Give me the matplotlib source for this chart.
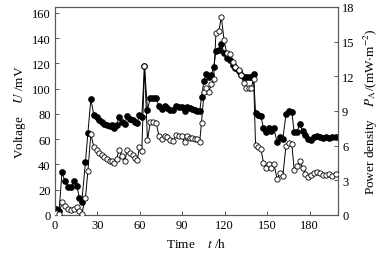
import numpy as np
import matplotlib
matplotlib.use('Agg')
import matplotlib.pyplot as plt

plt.rcParams['font.family'] = ['Liberation Serif', 'DejaVu Serif']
plt.rcParams['mathtext.fontset'] = 'stix'

# time (h), voltage (mV), power density (mW/m2)
t = [1, 3, 5, 7, 9.5, 11.5, 13.5, 15.5, 17.3, 19, 21.6, 23.3, 25.4, 27.5, 29.4,
     31.2, 33, 34.8, 36.7, 38.6, 40.3, 42, 43.6, 45.4, 47.3, 49.4, 51.2, 53.1,
     54.9, 56.7, 58.2, 59.7, 61.4, 63.3, 65.4, 67.4, 69.4, 71.5, 73.6, 75.5,
     77.6, 79.5, 81.6, 83.4, 85.8, 87.7, 89.6, 91.7, 93.6, 95.3, 97.1, 98.8,
     100.6, 102.3, 103.6, 105.4, 107, 108.6, 110.5, 112.2, 113.8, 115.8, 117.6,
     119.6, 121.4, 123.4, 125.7, 127.6, 129.8, 131.7, 133.4, 135.2, 137, 138.8,
     140.4, 141.8, 143.7, 145.6, 147.4, 149.3, 151.1, 152.8, 154.8, 157, 159,
     161.1, 163.3, 165.3, 167.4, 169.1, 171.1, 173, 175, 177, 179.1, 181.2,
     183.2, 185.3, 187.3, 189.3, 191.5, 193.7, 196, 198.4]
voltage = [4.5, 3.5, 34, 27, 22, 22, 27, 23, 13.5, 10.5, 42, 65, 91.5, 79.5, 77.5,
           75.5, 73.5, 72, 71, 70.5, 71, 68.5, 71, 78, 73.5, 72, 78.5, 76,
           75, 74, 73, 79.5, 77.5, 118, 83, 93, 93, 92.5, 86, 84,
           86, 84.5, 83.5, 83, 86, 85.5, 85.5, 82, 85.5, 84.5, 84, 83.2,
           82.6, 82, 93.5, 106.5, 112, 109, 111, 117, 130, 131, 135.5,
           128, 124, 123, 118.5, 116.5, 114, 111, 109.5, 109.3, 109.3, 109.3,
           112, 80.5, 79.5, 78.5, 68.5, 66, 68.5, 66.8, 68.5, 57.5, 62,
           60.2, 80, 82, 81.8, 65.5, 66, 72, 66.3, 63.4, 60.5, 59.6,
           61.5, 62.8, 62, 61, 62, 60.7, 61.5, 61.5]
power = [0.15, 0.1, 1.1, 0.75, 0.55, 0.43, 0.55, 0.65, 0.35, 0.1, 1.5, 3.8, 7.0, 5.9, 5.65,
         5.4, 5.2, 5.0, 4.85, 4.7, 4.7, 4.5, 4.85, 5.65, 5.1, 4.7, 5.65, 5.35,
         5.2, 4.9, 4.75, 5.85, 5.5, 12.9, 6.45, 8.05, 8.05, 8.0, 6.8, 6.55,
         6.85, 6.75, 6.45, 6.4, 6.9, 6.8, 6.8, 6.3, 6.8, 6.65, 6.65, 6.55,
         6.55, 6.3, 8.0, 10.6, 11.0, 10.6, 11.3, 11.8, 15.7, 15.9, 17.1,
         15.1, 14.0, 13.9, 13.2, 12.8, 12.5, 12.1, 11.4, 11.0, 11.0, 11.0,
         11.8, 6.05, 5.85, 5.7, 4.5, 4.1, 4.45, 4.1, 4.45, 3.1, 3.6,
         3.4, 6.0, 6.2, 6.15, 3.9, 4.2, 4.7, 4.1, 3.55, 3.3, 3.45,
         3.65, 3.7, 3.6, 3.45, 3.45, 3.55, 3.4, 3.55]

xticks = [0, 30, 60, 90, 120, 150, 180]
yticks_left = [0, 20, 40, 60, 80, 100, 120, 140, 160]
yticks_right = [0, 3, 6, 9, 12, 15, 18]

fig = plt.figure(figsize=(3.84, 2.55), dpi=100)
ax = fig.add_axes([0.143, 0.153, 0.737, 0.816])
ax2 = ax.twinx()

ax.plot(t, voltage, color='black', lw=0.7, marker='o', ms=3.8,
        mfc='black', mec='black', zorder=2)
ax2.plot(t, power, color='black', lw=0.7, marker='o', ms=3.8,
         mfc='white', mec='black', mew=0.6, zorder=3)

ax.set_xlim(0, 200)
ax.set_ylim(0, 164.8)
ax2.set_ylim(0, 18)
ax.set_xticks(xticks)
ax.set_yticks(yticks_left)
ax2.set_yticks(yticks_right)

for a in (ax, ax2):
    for s in a.spines.values():
        s.set_color('0.35')
        s.set_linewidth(0.8)
    a.tick_params(direction='in', length=3, width=0.7, color='0.35',
                  labelsize=9, pad=3)
ax.tick_params(top=False, right=False)
ax2.tick_params(left=False, top=False)

ax.set_xlabel('Time    $t$ /h', fontsize=9.5, labelpad=4)
ax.set_ylabel('Voltage    $U$ /mV', fontsize=9.5, labelpad=3)
ax2.set_ylabel('Power density    $P_{\\rm A}$/(mW$\\cdot$m$^{-2}$)',
               fontsize=9.5, rotation=90, labelpad=5)

fig.savefig('out.png', dpi=100)
